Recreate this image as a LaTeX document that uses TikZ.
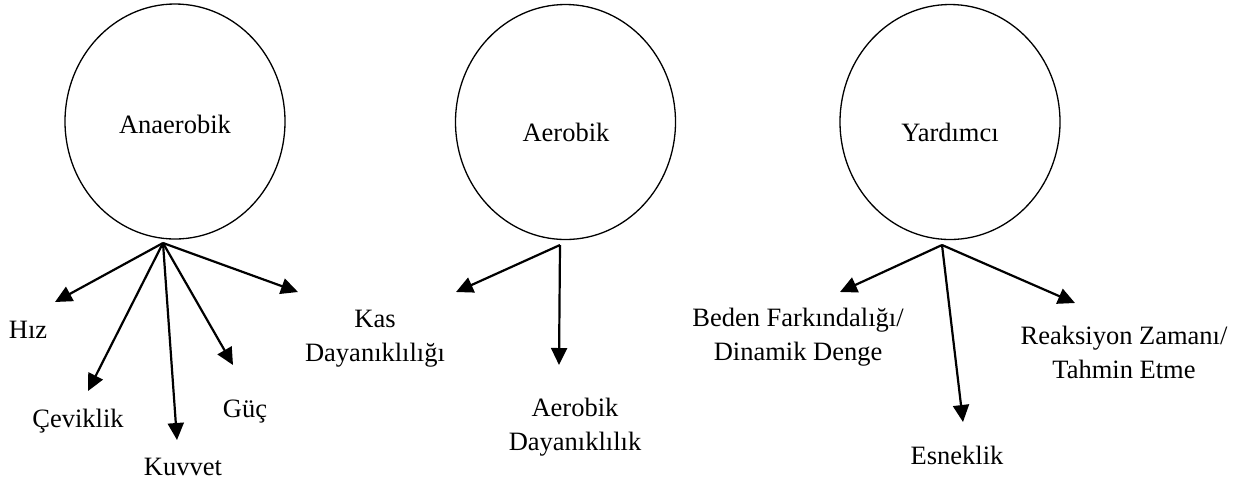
\documentclass[tikz,border=0pt]{standalone}
\usepackage{fontspec}
\setmainfont{Liberation Serif}
\usetikzlibrary{shapes.geometric,arrows.meta}

\tikzset{
  group/.style={draw, ellipse, line width=0.65pt, minimum width=110pt, minimum height=117.5pt, inner sep=0pt},
  lbl/.style={font=\fontsize{13.25}{17}\selectfont, align=center, inner sep=0pt, anchor=base},
  branch/.style={line width=1.1pt, -{Triangle[length=8.5pt,width=8pt]}}
}

\begin{document}
\begin{tikzpicture}[x=0.5pt, y=-0.5pt]
  \useasboundingbox (0,0) rectangle (1251,484);

  % three main groups
  \node[group] (ana) at (175,121.5) {};
  \node[group] (aer) at (565.5,122) {};
  \node[group] (yar) at (950,122) {};
  \node[lbl] (anaT) at (175,133) {Anaerobik};
  \node[lbl] (aerT) at (566,141) {Aerobik};
  \node[lbl] (yarT) at (950,141) {Yardımcı};

  % branching points just below each circle
  \coordinate (anaO) at (163,243);
  \coordinate (aerO) at (560,245);
  \coordinate (yarO) at (942,245);

  % arrow ends
  \coordinate (hizE) at (55,302);
  \coordinate (cevE) at (88,391);
  \coordinate (kuvE) at (177,440);
  \coordinate (gucE) at (233,365);
  \coordinate (kasE1) at (298,292);
  \coordinate (kasE2) at (456,292);
  \coordinate (aedE) at (559,365);
  \coordinate (bedE) at (840,292);
  \coordinate (esnE) at (963,422);
  \coordinate (reaE) at (1075,303);

  % labels (base = baseline of the last line)
  \node[lbl] (hiz) at (28,338) {Hız};
  \node[lbl] (cev) at (78,427) {Çeviklik};
  \node[lbl] (kuv) at (183,475) {Kuvvet};
  \node[lbl] (guc) at (245,417) {Güç};
  \node[lbl] (kas) at (375,361) {Kas\\Dayanıklılığı};
  \node[lbl] (aed) at (575,450) {Aerobik\\Dayanıklılık};
  \node[lbl] (bed) at (798,360) {Beden Farkındalığı/\\Dinamik Denge};
  \node[lbl] (esn) at (957,464) {Esneklik};
  \node[lbl] (rea) at (1124,378) {Reaksiyon Zamanı/\\Tahmin Etme};

  % connectors
  \draw[branch] (anaO) -- (hizE);
  \draw[branch] (anaO) -- (cevE);
  \draw[branch] (anaO) -- (kuvE);
  \draw[branch] (anaO) -- (gucE);
  \draw[branch] (anaO) -- (kasE1);
  \draw[branch] (aerO) -- (kasE2);
  \draw[branch] (aerO) -- (aedE);
  \draw[branch] (yarO) -- (bedE);
  \draw[branch] (yarO) -- (esnE);
  \draw[branch] (yarO) -- (reaE);
\end{tikzpicture}
\end{document}
